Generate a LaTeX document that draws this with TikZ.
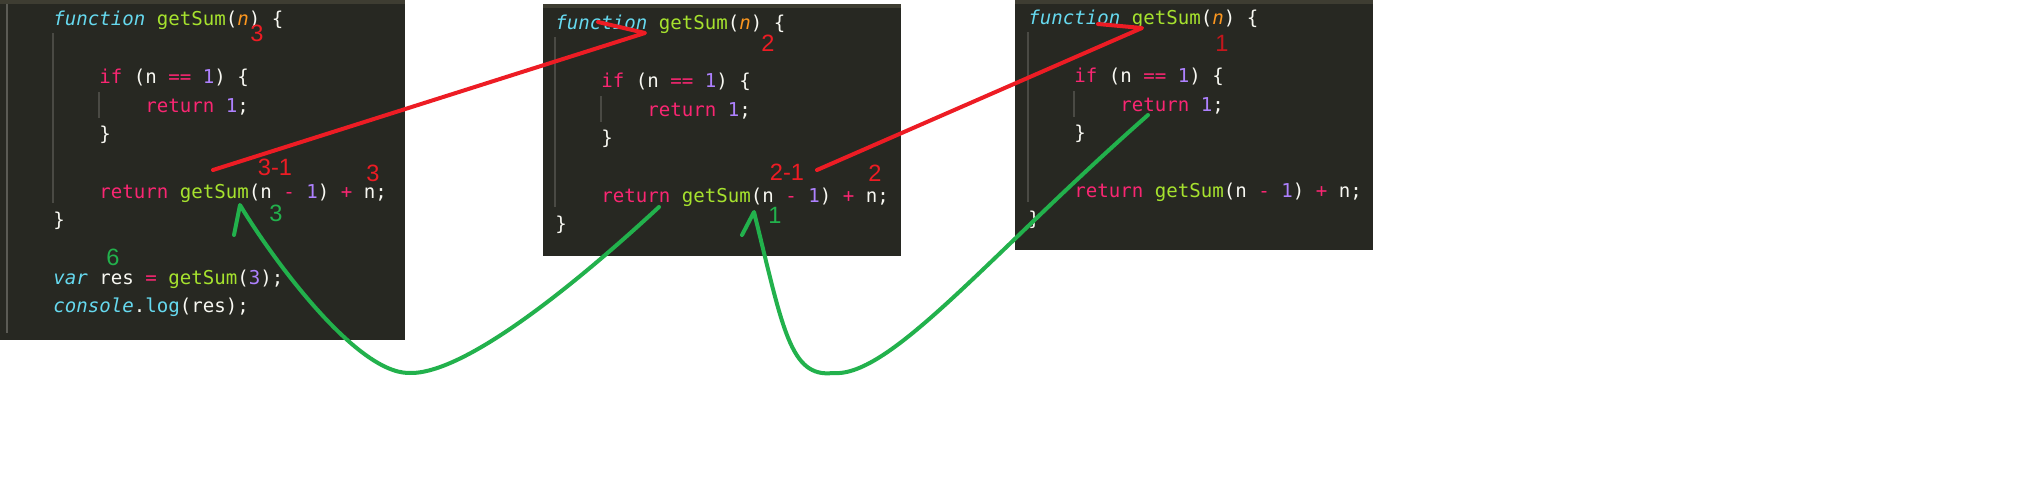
\documentclass[tikz,border=0pt]{standalone}
\usepackage{fontspec}
\newfontfamily\codefont{DejaVu Sans Mono}
\newfontfamily\notefont{Liberation Sans}
\definecolor{editorbg}{HTML}{272822}
\definecolor{tabbar}{HTML}{3E3D32}
\definecolor{guidegray}{HTML}{4A4A44}
\definecolor{guttergray}{HTML}{5B5B55}
\definecolor{mcyan}{HTML}{66D9EF}
\definecolor{mgreen}{HTML}{A6E22E}
\definecolor{morange}{HTML}{FD971F}
\definecolor{mpink}{HTML}{F92672}
\definecolor{mpurple}{HTML}{AE81FF}
\definecolor{mwhite}{HTML}{F8F8F2}
\definecolor{paintred}{HTML}{ED1C24}
\definecolor{paintdarkred}{HTML}{C4161C}
\definecolor{paintgreen}{HTML}{22B14C}
\newcommand\kwd[1]{\textcolor{mpink}{#1}}
\newcommand\fnc[1]{\textcolor{mcyan}{\itshape #1}}
\newcommand\idf[1]{\textcolor{mgreen}{#1}}
\newcommand\prm[1]{\textcolor{morange}{\itshape #1}}
\newcommand\nmb[1]{\textcolor{mpurple}{#1}}
\tikzstyle{codeline}=[anchor=base west,inner sep=0pt,text=mwhite,font=\codefont\fontsize{9.55}{11}\selectfont]
\tikzstyle{guide}=[draw=guidegray,line width=0.75pt]
\tikzstyle{redstroke}=[draw=paintred,line width=2pt,line cap=round,line join=round]
\tikzstyle{greenstroke}=[draw=paintgreen,line width=2pt,line cap=round,line join=round]
\tikzstyle{rednote}=[inner sep=0pt,text=paintred,font=\notefont\fontsize{11.8}{12}\selectfont]
\tikzstyle{greennote}=[inner sep=0pt,text=paintgreen,font=\notefont\fontsize{11.8}{12}\selectfont]

\begin{document}
\begin{tikzpicture}[x=0.5pt,y=-0.5pt]
    \useasboundingbox (0,0) rectangle (2032,480);
    \fill[white] (0,0) rectangle (2032,480);

    % the three editor windows with the function body
    \foreach \p/\dx/\dy/\xa/\ya/\xb/\yb in {A/0/0/0/0/405/340, B/502/4/543/4/901/256, C/975/-1/1015/0/1373/250}
    {
        \fill[editorbg] (\xa,\ya) rectangle (\xb,\yb);
        \fill[tabbar] (\xa,\ya) rectangle (\xb,\ya+4);
        \draw[guide] (53+\dx,33+\dy) -- (53+\dx,203+\dy);
        \draw[guide] (99+\dx,92+\dy) -- (99+\dx,118+\dy);
        \node[codeline] (fn\p) at (53+\dx,26+\dy) {\fnc{function} \idf{getSum}(\prm{n}) \{};
        \node[codeline] (if\p) at (99+\dx,83.4+\dy) {\kwd{if} (n \kwd{==} \nmb{1}) \{};
        \node[codeline] (one\p) at (145+\dx,112.1+\dy) {\kwd{return} \nmb{1};};
        \node[codeline] (endif\p) at (99+\dx,140.8+\dy) {\}};
        \node[codeline] (ret\p) at (99+\dx,198.2+\dy) {\kwd{return} \idf{getSum}(n \kwd{-} \nmb{1}) \kwd{+} n;};
        \node[codeline] (end\p) at (53+\dx,226.9+\dy) {\}};
    }

    % first window: gutter and the call
    \draw[guttergray,line width=1pt] (6.5,4) -- (6.5,333);
    \node[codeline] (var) at (53,284.3) {\fnc{var} res \kwd{=} \idf{getSum}(\nmb{3});};
    \node[codeline] (log) at (53,313) {\fnc{console}.\textcolor{mcyan}{log}(res);};

    % calls going in
    \coordinate (callA) at (213,170);
    \coordinate (headB) at (645,33);
    \coordinate (hookB) at (598,22);
    \coordinate (callB) at (817,170);
    \coordinate (headC) at (1142,28);
    \coordinate (hookC) at (1098,24);
    \draw[redstroke] (callA) -- (headB) -- (hookB);
    \draw[redstroke] (callB) -- (headC) -- (hookC);

    % values coming back
    \coordinate (backB) at (659,207);
    \coordinate (lowA) at (409,373);
    \coordinate (tipA) at (240,205);
    \coordinate (barbA) at (234,235);
    \coordinate (backC) at (1148,115);
    \coordinate (lowB) at (833,373);
    \coordinate (tipB) at (754,212);
    \coordinate (barbB) at (742,235);
    \draw[greenstroke] (backB) .. controls (579,281) and (465,375) .. (lowA)
        .. controls (355,373) and (270,255) .. (tipA) -- (barbA);
    \draw[greenstroke] (backC) .. controls (990,254) and (890,378) .. (lowB)
        .. controls (790,378) and (783,329) .. (tipB) -- (barbB);

    % the numbers
    \node[rednote] (nA) at (257,33) {3};
    \node[rednote] (subA) at (275,167) {3-1};
    \node[rednote] (addA) at (373,173) {3};
    \node[rednote] (nB) at (768,43) {2};
    \node[rednote] (subB) at (787,172) {2-1};
    \node[rednote] (addB) at (875,173) {2};
    \node[rednote,text=paintdarkred] (nC) at (1222,43) {1};
    \node[greennote] (gotA) at (276,213) {3};
    \node[greennote] (res) at (113,257) {6};
    \node[greennote] (gotB) at (775,215) {1};
\end{tikzpicture}
\end{document}
